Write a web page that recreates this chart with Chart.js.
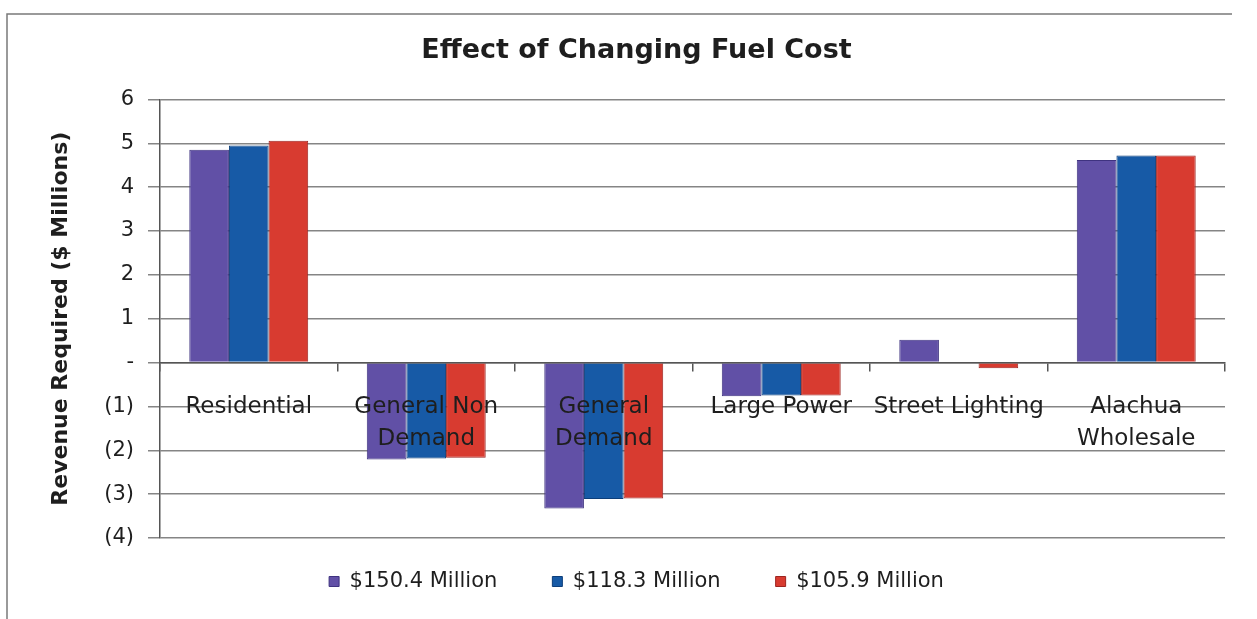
<!DOCTYPE html>
<html>
<head>
<meta charset="utf-8">
<script src="https://cdn.jsdelivr.net/npm/chart.js@4.4.1/dist/chart.umd.min.js"></script>
<style>
  html, body { margin: 0; padding: 0; background: #fff; }
  #wrap { width: 1257px; height: 619px; position: relative; }
</style>
</head>
<body>
<div id="wrap"><canvas id="c" width="1257" height="619"></canvas></div>
<script>
const categories = ['Residential', ['General Non', 'Demand'], ['General', 'Demand'], 'Large Power', 'Street Lighting', ['Alachua', 'Wholesale']];
const seriesNames = ['$150.4 Million', '$118.3 Million', '$105.9 Million'];
const fuel150 = [4.85, -2.21, -3.33, -0.77, 0.52, 4.62];
const fuel118 = [4.95, -2.19, -3.11, -0.75, 0.00, 4.72];
const fuel106 = [5.06, -2.17, -3.10, -0.75, -0.13, 4.72];
const yTickMin = -4;
const yTickMax = 6;

const FONT = "'DejaVu Sans', 'Liberation Sans', Arial, sans-serif";

const framePlugin = {
  id: 'frame',
  beforeDraw(chart) {
    const ctx = chart.ctx;
    ctx.save();
    ctx.fillStyle = '#ffffff';
    ctx.fillRect(0, 0, chart.width, chart.height);
    ctx.strokeStyle = '#7a7a7a';
    ctx.lineWidth = 1.5;
    ctx.beginPath();
    ctx.moveTo(7, 619);
    ctx.lineTo(7, 14);
    ctx.lineTo(1232, 14);
    ctx.stroke();
    ctx.restore();
  }
};

const LEGEND_PAD = 55;
const LEGEND_SHIFT = LEGEND_PAD - 33;
const legendFitPlugin = {
  id: 'legendFit',
  beforeInit(chart) {
    const lg = chart.legend;
    if (lg && !lg._patched) {
      const origFit = lg.fit;
      lg.fit = function () { origFit.call(this); this.height += 17 - LEGEND_SHIFT; };
      const origDraw = lg.draw;
      lg.draw = function () {
        const ctx = this.ctx;
        ctx.save();
        ctx.translate(0, -LEGEND_SHIFT);
        origDraw.call(this);
        ctx.restore();
      };
      lg._patched = true;
    }
  }
};

new Chart(document.getElementById('c'), {
  type: 'bar',
  data: {
    labels: categories,
    datasets: [
      { label: seriesNames[0], data: fuel150, backgroundColor: '#6150a6', borderColor: '#3f3380', borderWidth: 1 },
      { label: seriesNames[1], data: fuel118, backgroundColor: '#175aa6', borderColor: '#0d3e7a', borderWidth: 1 },
      { label: seriesNames[2], data: fuel106, backgroundColor: '#d83b30', borderColor: '#9c2520', borderWidth: 1 }
    ]
  },
  options: {
    responsive: false,
    animation: false,
    devicePixelRatio: 1,
    layout: { padding: { left: 48, right: 32, top: 30, bottom: 0 } },
    datasets: { bar: { categoryPercentage: 0.67, barPercentage: 1.0 } },
    plugins: {
      title: {
        display: true,
        text: 'Effect of Changing Fuel Cost',
        color: '#1e1e1e',
        font: { family: FONT, size: 27, weight: 'bold' },
        padding: { top: 5, bottom: 32 }
      },
      legend: {
        position: 'bottom',
        labels: {
          color: '#1e1e1e',
          font: { family: FONT, size: 21 },
          boxWidth: 10,
          boxHeight: 10,
          padding: LEGEND_PAD
        }
      },
      tooltip: { enabled: false }
    },
    scales: {
      x: {
        type: 'category',
        position: { y: 0 },
        offset: true,
        grid: { drawOnChartArea: false, offset: true, tickLength: 8, color: '#555', lineWidth: 1.5, z: 1 },
        border: { display: true, color: '#555', width: 1.5, z: 1 },
        ticks: {
          z: 1,
          color: '#1e1e1e',
          font: { family: FONT, size: 23, lineHeight: 1.4 },
          padding: 20,
          maxRotation: 0,
          minRotation: 0,
          autoSkip: false
        }
      },
      y: {
        min: yTickMin,
        max: yTickMax,
        afterFit(scale) { scale.width = 112; },
        grid: { color: '#858585', lineWidth: 1.5, tickLength: 12 },
        border: { display: true, color: '#555', width: 1.5 },
        ticks: {
          stepSize: 1,
          color: '#1e1e1e',
          font: { family: FONT, size: 21 },
          padding: 14,
          callback(v) {
            if (v > 0) return String(v);
            if (v === 0) return '-';
            return '(' + (-v) + ')';
          }
        },
        title: {
          display: true,
          text: 'Revenue Required ($ Millions)',
          color: '#1e1e1e',
          font: { family: FONT, size: 22, weight: 'bold' },
          padding: 0
        }
      }
    }
  },
  plugins: [framePlugin, legendFitPlugin]
});
</script>
</body>
</html>
